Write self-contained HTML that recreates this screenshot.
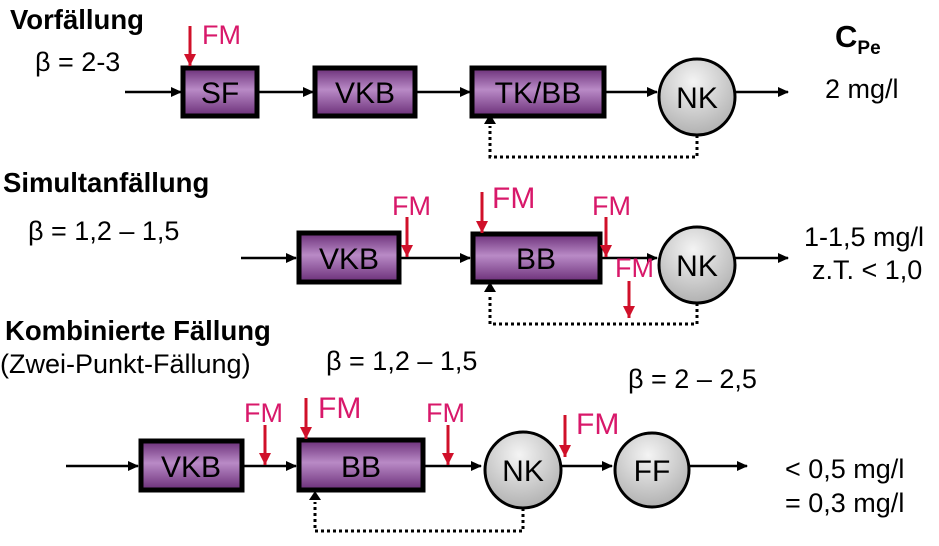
<!DOCTYPE html>
<html><head><meta charset="utf-8"><style>
html,body{margin:0;padding:0;background:#fff;}
svg{display:block;font-family:"Liberation Sans",Arial,sans-serif;}
.b{fill:url(#pg);stroke:#000;stroke-width:5;}
.c{fill:url(#gg);stroke:#000;stroke-width:3;}
.l{stroke:#000;stroke-width:2.5;fill:none;}
.d{stroke:#000;stroke-width:3;stroke-dasharray:3,3;fill:none;}
.r{stroke:#d0102a;stroke-width:3;}
.t{font-size:30px;fill:#000;}
.fm{font-size:27px;fill:#d8186a;}
.h{font-size:27.5px;font-weight:bold;fill:#000;}
.v{font-size:27px;fill:#000;}
</style></head><body>
<svg width="939" height="546" viewBox="0 0 939 546">
<defs>
<linearGradient id="pg" x1="0" y1="0" x2="0" y2="1">
<stop offset="0" stop-color="#6a2e78"/><stop offset="0.45" stop-color="#b98ac6"/><stop offset="1" stop-color="#6a2e78"/>
</linearGradient>
<radialGradient id="gg" cx="0.45" cy="0.3" r="0.8">
<stop offset="0" stop-color="#f4f4f4"/><stop offset="1" stop-color="#a8a8a8"/>
</radialGradient>
<marker id="a" markerWidth="11" markerHeight="10" refX="10" refY="5" orient="auto" markerUnits="userSpaceOnUse"><path d="M0,0 L11,5 L0,10z" fill="#000"/></marker>
<marker id="ar" markerWidth="12" markerHeight="14" refX="12" refY="6" orient="auto" markerUnits="userSpaceOnUse"><path d="M0,0 L12,6 L0,12z" fill="#d0102a"/></marker>
</defs>

<!-- Row 1 -->
<text x="10" y="29" class="h">Vorfällung</text>
<text x="35" y="71" class="v">β = 2-3</text>
<text x="835" y="47" class="h" style="font-size:31px">C<tspan font-size="19" dy="7">Pe</tspan></text>
<text x="825" y="98" class="v">2 mg/l</text>
<line x1="125" y1="92" x2="181" y2="92" class="l" marker-end="url(#a)"/>
<rect x="183" y="68" width="74" height="48" class="b"/>
<text x="220" y="103" class="t" text-anchor="middle">SF</text>
<line x1="257" y1="92" x2="313" y2="92" class="l" marker-end="url(#a)"/>
<rect x="315" y="68" width="100" height="48" class="b"/>
<text x="365" y="103" class="t" text-anchor="middle">VKB</text>
<line x1="415" y1="92" x2="470" y2="92" class="l" marker-end="url(#a)"/>
<rect x="472" y="68" width="132" height="48" class="b"/>
<text x="538" y="103" class="t" text-anchor="middle">TK/BB</text>
<line x1="604" y1="92" x2="657" y2="92" class="l" marker-end="url(#a)"/>
<circle cx="697" cy="97" r="38" class="c"/>
<text x="697" y="108" class="t" text-anchor="middle">NK</text>
<line x1="735" y1="92" x2="788" y2="92" class="l" marker-end="url(#a)"/>
<polyline points="697,135 697,157 490,157 490,126" class="d"/>
<path d="M484,124 L490,114 L496,124z" fill="#000"/>
<line x1="190" y1="26" x2="190" y2="66" class="r" marker-end="url(#ar)"/>
<text x="202" y="44" class="fm">FM</text>

<!-- Row 2 -->
<text x="3" y="192" class="h">Simultanfällung</text>
<text x="28" y="240" class="v">β = 1,2 – 1,5</text>
<text x="804" y="246" class="v">1-1,5 mg/l</text>
<text x="812" y="279" class="v">z.T. &lt; 1,0</text>
<line x1="241" y1="258" x2="296" y2="258" class="l" marker-end="url(#a)"/>
<rect x="299" y="233" width="100" height="49" class="b"/>
<text x="349" y="269" class="t" text-anchor="middle">VKB</text>
<line x1="399" y1="258" x2="470" y2="258" class="l" marker-end="url(#a)"/>
<rect x="473" y="234" width="127" height="48" class="b"/>
<text x="536" y="269" class="t" text-anchor="middle">BB</text>
<line x1="600" y1="258" x2="657" y2="258" class="l" marker-end="url(#a)"/>
<circle cx="697" cy="265" r="38" class="c"/>
<text x="697" y="276" class="t" text-anchor="middle">NK</text>
<line x1="735" y1="258" x2="788" y2="258" class="l" marker-end="url(#a)"/>
<polyline points="697,303 697,324 490,324 490,294" class="d"/>
<path d="M484,292 L490,282 L496,292z" fill="#000"/>
<line x1="407" y1="217" x2="407" y2="257" class="r" marker-end="url(#ar)"/>
<text x="392" y="215" class="fm">FM</text>
<line x1="482" y1="192" x2="482" y2="233" class="r" marker-end="url(#ar)"/>
<text x="492" y="208" class="fm" style="font-size:30px">FM</text>
<line x1="606" y1="217" x2="606" y2="257" class="r" marker-end="url(#ar)"/>
<text x="592" y="215" class="fm">FM</text>
<line x1="629" y1="281" x2="629" y2="318" class="r" marker-end="url(#ar)"/>
<text x="615" y="277" class="fm">FM</text>

<!-- Row 3 -->
<text x="5" y="340" class="h">Kombinierte Fällung</text>
<text x="0" y="373" class="v">(Zwei-Punkt-Fällung)</text>
<text x="326" y="370" class="v">β = 1,2 – 1,5</text>
<text x="628" y="388" class="v">β = 2 – 2,5</text>
<text x="785" y="478" class="v">&lt; 0,5 mg/l</text>
<text x="785" y="512" class="v">= 0,3 mg/l</text>
<line x1="66" y1="466" x2="138" y2="466" class="l" marker-end="url(#a)"/>
<rect x="141" y="441" width="101" height="49" class="b"/>
<text x="191" y="477" class="t" text-anchor="middle">VKB</text>
<line x1="242" y1="466" x2="296" y2="466" class="l" marker-end="url(#a)"/>
<rect x="299" y="440" width="124" height="50" class="b"/>
<text x="361" y="477" class="t" text-anchor="middle">BB</text>
<line x1="423" y1="466" x2="481" y2="466" class="l" marker-end="url(#a)"/>
<circle cx="523" cy="470" r="38" class="c"/>
<text x="523" y="481" class="t" text-anchor="middle">NK</text>
<line x1="561" y1="466" x2="612" y2="466" class="l" marker-end="url(#a)"/>
<circle cx="652" cy="470" r="37" class="c"/>
<text x="652" y="481" class="t" text-anchor="middle">FF</text>
<line x1="689" y1="466" x2="747" y2="466" class="l" marker-end="url(#a)"/>
<polyline points="523,508 523,531 315,531 315,502" class="d"/>
<path d="M309,500 L315,491 L321,500z" fill="#000"/>
<line x1="265" y1="425" x2="265" y2="465" class="r" marker-end="url(#ar)"/>
<text x="244" y="422" class="fm">FM</text>
<line x1="306" y1="398" x2="306" y2="439" class="r" marker-end="url(#ar)"/>
<text x="318" y="418" class="fm" style="font-size:30px">FM</text>
<line x1="448" y1="425" x2="448" y2="465" class="r" marker-end="url(#ar)"/>
<text x="426" y="422" class="fm">FM</text>
<line x1="565" y1="415" x2="565" y2="457" class="r" marker-end="url(#ar)"/>
<text x="576" y="434" class="fm" style="font-size:30px">FM</text>
</svg>
</body></html>
